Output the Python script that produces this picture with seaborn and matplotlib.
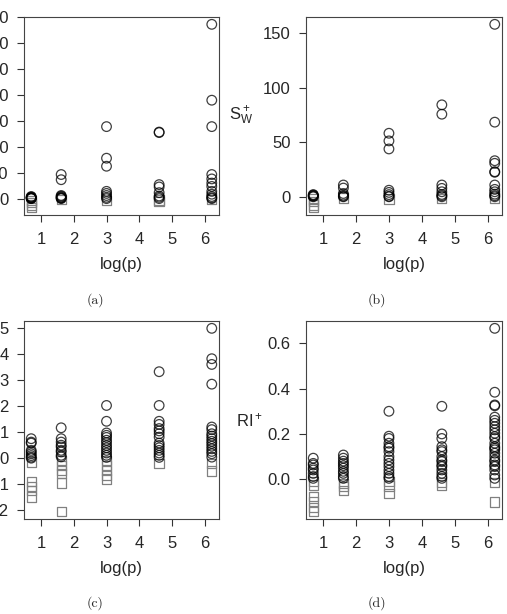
import numpy as np
import pandas as pd
import matplotlib
matplotlib.use("Agg")
import matplotlib.pyplot as plt
import seaborn as sns

# number of variables p; x axis is log(p)
p_values = [2, 5, 20, 100, 500]

# panel (a) values, one list per p
a_vals = [
    [0.0, 0.2, 0.4, 0.6, 0.3, 0.1, 0.8, -0.8, -1.6, -2.5, -3.5],
    [9.3, 7.3, 0.0, 0.3, 0.6, 0.9, 0.2, 1.2, -0.4],
    [27.8, 15.6, 12.5, 2.8, 2.0, 1.2, 0.5, 0.0, -0.8],
    [25.7, 25.5, 5.4, 4.5, 2.3, 1.0, 0.5, 0.0, -0.5, -1.0],
    [67.3, 38.0, 27.8, 9.3, 7.6, 6.0, 4.7, 2.8, 1.7, 0.8, 0.3, 0.0, -0.3],
]
# panel (b): S_W^+
b_vals = [
    [0.0, 0.5, 1.0, 1.5, 2.0, -2.0, -4.5, -7.5, -10.0],
    [10.8, 8.0, 3.0, 1.5, 0.5, 0.0, -1.0],
    [58.3, 51.3, 43.9, 6.0, 4.0, 2.0, 0.5, 0.0, -2.0],
    [84.4, 75.8, 10.8, 7.7, 4.6, 2.1, 1.0, 0.0, -1.5],
    [158.3, 68.5, 33.1, 30.7, 23.0, 22.5, 10.8, 6.8, 4.6, 2.4, 1.0, 0.0, -1.0],
]
# panel (c)
c_vals = [
    [0.75, 0.62, 0.58, 0.3, 0.24, 0.17, 0.1, 0.04, 0.0, -0.15, -0.9, -1.1, -1.25, -1.5],
    [1.17, 0.75, 0.62, 0.5, 0.43, 0.3, 0.24, 0.11, 0.05, -0.08, -0.28, -0.47, -0.6, -0.96, -2.06],
    [2.03, 1.42, 0.97, 0.88, 0.8, 0.69, 0.6, 0.49, 0.4, 0.3, 0.2, 0.11, 0.03,
     -0.08, -0.28, -0.47, -0.66, -0.8],
    [3.33, 2.03, 1.42, 1.3, 1.14, 1.05, 0.94, 0.81, 0.58, 0.49, 0.4, 0.3, 0.2, 0.11, 0.03, -0.21],
    [5.0, 3.83, 3.61, 2.85, 1.2, 1.1, 0.94, 0.85, 0.75, 0.65, 0.56, 0.46, 0.36, 0.26,
     0.17, 0.04, -0.21, -0.5],
]
# panel (d): RI^+
d_vals = [
    [0.093, 0.07, 0.063, 0.049, 0.041, 0.026, 0.012, 0.004, -0.01, -0.025, -0.076, -0.099, -0.124, -0.143],
    [0.107, 0.093, 0.08, 0.07, 0.06, 0.049, 0.035, 0.026, 0.012, 0.004, -0.018, -0.032, -0.05],
    [0.30, 0.19, 0.18, 0.159, 0.144, 0.137, 0.122, 0.1, 0.085, 0.07, 0.056, 0.04, 0.026,
     0.012, 0.004, -0.01, -0.03, -0.062],
    [0.322, 0.2, 0.18, 0.144, 0.13, 0.122, 0.1, 0.085, 0.078, 0.063, 0.056, 0.041, 0.026,
     0.012, 0.004, -0.015, -0.025],
    [0.666, 0.384, 0.328, 0.324, 0.274, 0.26, 0.247, 0.232, 0.218, 0.203, 0.188, 0.18,
     0.159, 0.144, 0.137, 0.13, 0.115, 0.1, 0.085, 0.078, 0.063, 0.056, 0.041, 0.019,
     0.004, -0.015, -0.1],
]

panels = [
    ("a", a_vals, r"S$_B^+$", [0, 10, 20, 30, 40, 50, 60, 70], None),
    ("b", b_vals, r"S$_W^+$", [0, 50, 100, 150], None),
    ("c", c_vals, r"R$^+$", [-2, -1, 0, 1, 2, 3, 4, 5], None),
    ("d", d_vals, r"RI$^+$", [0.0, 0.2, 0.4, 0.6], ["0.0", "0.2", "0.4", "0.6"]),
]

sns.set_style("white")
plt.rcParams["font.family"] = ["Liberation Sans", "DejaVu Sans"]
plt.rcParams["mathtext.fontset"] = "custom"
plt.rcParams["mathtext.rm"] = "Liberation Sans"
plt.rcParams["mathtext.it"] = "Liberation Sans"
plt.rcParams["font.size"] = 12

W, H = 507, 614
fig = plt.figure(figsize=(W / 100, H / 100), dpi=100)

# axes boxes in pixels (left, top, right, bottom)
boxes = {"a": (24, 17, 219, 215), "b": (306, 17, 502, 215),
         "c": (24, 321, 219, 519), "d": (306, 321, 502, 519)}
caps = {"a": (95, 300), "b": (377, 300), "c": (95, 603), "d": (377, 603)}

for key, vals, ylab, yticks, yticklabels in panels:
    l, t, r, b = boxes[key]
    ax = fig.add_axes([l / W, 1 - b / H, (r - l) / W, (b - t) / H])
    rows = []
    for p, grp in zip(p_values, vals):
        for v in grp:
            rows.append({"logp": np.log(p), "val": v, "neg": v < 0})
    df = pd.DataFrame(rows)
    pos = df[~df["neg"]]
    neg = df[df["neg"]]
    sns.scatterplot(data=neg, x="logp", y="val", marker="s", s=45,
                    facecolors="none", edgecolor="#808080", linewidth=0.9, ax=ax)
    sns.scatterplot(data=pos, x="logp", y="val", marker="o", s=48,
                    facecolors="none", edgecolor="black", linewidth=0.9,
                    alpha=0.75, ax=ax)
    ax.margins(x=0.04, y=0.04)
    ax.set_xticks([1, 2, 3, 4, 5, 6])
    ax.set_yticks(yticks)
    if yticklabels:
        ax.set_yticklabels(yticklabels)
    ax.tick_params(direction="out", length=5, width=0.8, color="#333333",
                   labelsize=12, pad=6, bottom=True, left=True)
    ax.tick_params(axis="x", pad=7)
    for sp in ax.spines.values():
        sp.set_color("#444444")
        sp.set_linewidth(0.8)
    ax.set_xlabel("log(p)", fontsize=12)
    ax.xaxis.set_label_coords(0.5, -0.21)
    ax.set_ylabel(ylab, rotation=0, fontsize=12, ha="center", va="center")
    ax.yaxis.set_label_coords(-0.33 if key in "ab" else -0.29, 0.5)
    cx, cy = caps[key]
    fig.text(cx / W, 1 - cy / H, f"({key})", ha="center", va="center",
             family="cmr10", fontsize=10)

fig.savefig("out.png", dpi=100)
